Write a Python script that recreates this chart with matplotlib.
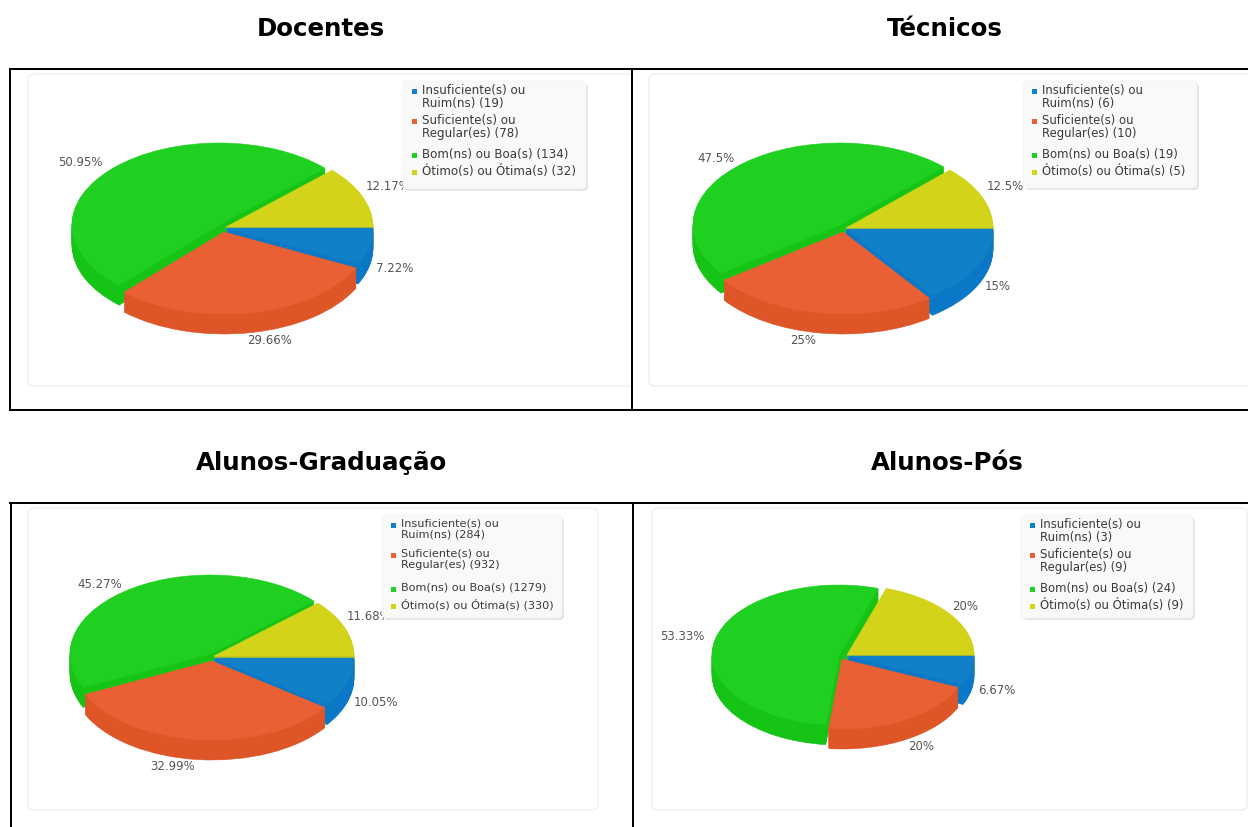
import matplotlib
matplotlib.use('Agg')
import matplotlib.pyplot as plt
from matplotlib.patches import FancyBboxPatch, Rectangle

W, H = 1248, 827
PX = 72 / 100  # px -> pt at dpi 100

# Data
titles = ['Docentes', 'Técnicos', 'Alunos-Graduação', 'Alunos-Pós']
docentes = [19, 78, 134, 32]
tecnicos = [6, 10, 19, 5]
graduacao = [284, 932, 1279, 330]
pos = [3, 9, 24, 9]
all_counts = [docentes, tecnicos, graduacao, pos]
legend_labels = ['Insuficiente(s) ou\nRuim(ns) ({})', 'Suficiente(s) ou\nRegular(es) ({})',
                 'Bom(ns) ou Boa(s) ({})', 'Ótimo(s) ou Ótima(s) ({})']

# Colours: blue, orange, green, yellow
top_colors = ['#1280C8', '#E86033', '#20D020', '#D3D41A']
side_colors = ['#0A78C6', '#DE5528', '#16C416', '#C6C614']
draw_order = [2, 3, 0, 1]  # back to front

# Layout, pixels
pie_geom = [(226, 228, 147, 82, 20), (846, 228, 147, 82, 20), (214, 657, 140, 79, 20), (847, 656, 127, 70, 20)]
# slice shifts (dx, dy) per slice: blue, orange, green, yellow
shifts = [[(0, 0), (-2, 4), (-7, -3), (0, -1)],
          [(0, 1), (-3, 4), (-6, -3), (0, 0)],
          [(0, 1), (-2, 4), (-4, -3), (0, -1)],
          [(0, 0), (-5, 3), (-8, -1), (0, -1)]]
title_xy = [(321, 29), (945, 29), (322, 463), (947, 463)]
cards = [(28, 74, 640, 386), (649, 74, 1270, 386), (28, 508, 598, 810), (652, 508, 1247, 810)]
legend_boxes = [(403, 81, 586, 189), (1023, 81, 1197, 188), (382, 515, 562, 618), (1021, 515, 1193, 618)]
legend_font_px = [11.9, 11.6, 11.2, 11.6]
legend_spacing = [0.98, 0.98, 1.2, 0.98]
legend_steps = [30, 34, 17]
pct_xy = [[(395, 268), (270, 340), (80, 163), (388, 186)],
          [(998, 287), (803, 340), (716, 158), (1005, 186)],
          [(376, 702), (173, 767), (100, 584), (369, 617)],
          [(997, 691), (921, 747), (682, 636), (965, 606)]]


def draw_pie(fig, counts, cx, cy, rx, ry, depth, shift):
    margin = 1.4
    bottom_extra = depth / ry
    ax = fig.add_axes([(cx - margin * rx) / W, (H - cy - (margin + bottom_extra) * ry) / H,
                       2 * margin * rx / W, (2 * margin + bottom_extra) * ry / H], zorder=2)
    # stack of darker pies going down gives the side walls, top surface last
    for k in range(depth, -1, -1):
        cols = top_colors if k == 0 else side_colors
        wedges, _ = ax.pie(counts, colors=cols, startangle=0, counterclock=False, radius=1, frame=True)
        for i, w in enumerate(wedges):
            w.set_center((shift[i][0] / rx, -(shift[i][1] + k) / ry))
            w.set_edgecolor(cols[i])
            w.set_linewidth(0.4)
            w.set_zorder((draw_order.index(i) + 1) * 1000 + depth - k)
    ax.set_aspect('auto')
    ax.set_xlim(-margin, margin)
    ax.set_ylim(-margin - bottom_extra, margin)
    ax.axis('off')


def draw_legend(ax, counts, box, font_px, spacing):
    x0, y0, x1, y1 = box
    ax.add_patch(FancyBboxPatch((x0 + 2, y0 + 2), x1 - x0, y1 - y0, boxstyle='round,pad=0,rounding_size=5',
                                fc='#e4e4e4', ec='none', zorder=5))
    ax.add_patch(FancyBboxPatch((x0, y0), x1 - x0, y1 - y0, boxstyle='round,pad=0,rounding_size=5',
                                fc='#f9f9f9', ec='#f4f4f4', lw=0.6, zorder=6))
    y = y0 + 10
    for i, lab in enumerate(legend_labels):
        ax.add_patch(Rectangle((x0 + 9, y - 2.5), 5, 5, fc=top_colors[i], ec='none', zorder=7))
        ax.text(x0 + 19, y - 7, lab.format(counts[i]), fontsize=font_px * PX, color='#3a3a3a',
                va='top', ha='left', linespacing=spacing, zorder=7)
        if i < 3:
            y += legend_steps[i]


fig = plt.figure(figsize=(W / 100, H / 100), dpi=100)
back = fig.add_axes([0, 0, 1, 1], zorder=1)
front = fig.add_axes([0, 0, 1, 1], zorder=3)
for a in (back, front):
    a.set_xlim(0, W)
    a.set_ylim(H, 0)
    a.axis('off')

for (x0, y0, x1, y1) in cards:
    back.add_patch(FancyBboxPatch((x0, y0), x1 - x0, y1 - y0, boxstyle='round,pad=0,rounding_size=6',
                                  fc='white', ec='#ececec', lw=0.8))
back.add_patch(Rectangle((632, 70), 16, 340, fc='white', ec='none', zorder=3))

# black table lines
for x_a, y_a, x_b, y_b in [(10, 69, W, 69), (10, 410, W, 410), (10, 69, 10, 410), (632, 69, 632, 410),
                           (10, 503, W, 503), (11, 503, 11, H), (633, 503, 633, H)]:
    back.plot([x_a, x_b], [y_a, y_b], color='black', lw=2 * PX, solid_capstyle='projecting', zorder=4)

for p in range(4):
    counts = all_counts[p]
    front.text(title_xy[p][0], title_xy[p][1], titles[p], fontsize=24.5 * PX, fontweight='bold',
               ha='center', va='center', color='black')
    draw_pie(fig, counts, *pie_geom[p], shifts[p])
    total = sum(counts)
    for i, c in enumerate(counts):
        front.text(pct_xy[p][i][0], pct_xy[p][i][1], '{:g}%'.format(round(100 * c / total, 2)),
                   fontsize=11.8 * PX, color='#555555', ha='center', va='center', zorder=2)
    draw_legend(front, counts, legend_boxes[p], legend_font_px[p], legend_spacing[p])

fig.savefig('out.png', dpi=100, facecolor='white')
